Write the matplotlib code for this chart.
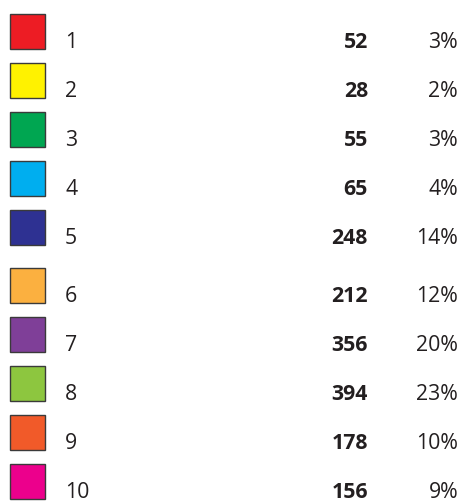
import matplotlib
matplotlib.use("Agg")
import matplotlib.pyplot as plt

# legend table data
labels = ["1", "2", "3", "4", "5", "6", "7", "8", "9", "10"]
counts = [52, 28, 55, 65, 248, 212, 356, 394, 178, 156]
shares = ["3%", "2%", "3%", "4%", "14%", "12%", "20%", "23%", "10%", "9%"]
colors = ["#ED1C24", "#FFF200", "#00A651", "#00AEEF", "#2E3192",
          "#FBB040", "#7F3F98", "#8DC63F", "#F15A29", "#EC008C"]

plt.rcParams['font.family'] = ['Open Sans', 'DejaVu Sans']

fig = plt.figure(figsize=(4.62, 5.01), dpi=100)
ax = fig.add_axes([0, 0, 1, 1])
ax.set_xlim(0, 462)
ax.set_ylim(501, 0)
ax.axis('off')

box = 35
for i, (lab, n, pct, col) in enumerate(zip(labels, counts, shares, colors)):
    # second block of five rows sits a little lower
    top = 14 + 49 * i + (9 if i >= 5 else 0)
    ax.bar(27.5, box, width=box, bottom=top, color=col,
           edgecolor="#3a3a3a", linewidth=1.0)
    base = top + 34
    ax.text(65, base, lab, fontsize=15.3, color="#231F20", va='baseline', ha='left')
    ax.text(368, base, str(n), fontsize=15.3, fontweight='bold', color="#231F20",
            va='baseline', ha='right')
    ax.text(458, base, pct, fontsize=15.3, color="#231F20", va='baseline', ha='right')

fig.savefig("out.png", dpi=100)
